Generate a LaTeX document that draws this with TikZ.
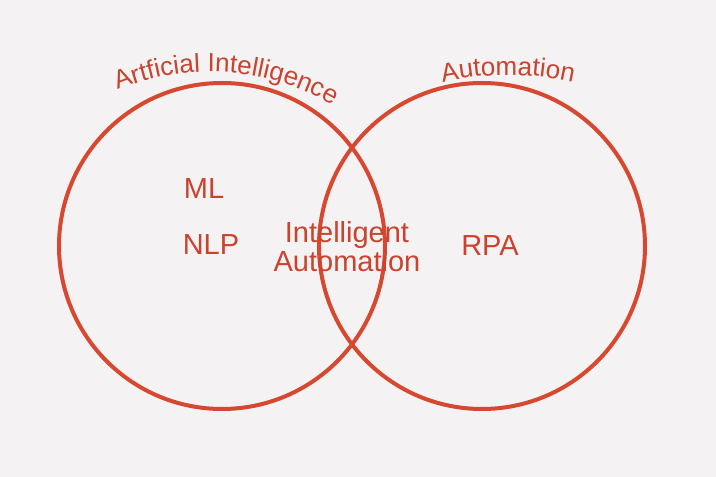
\documentclass[tikz,border=0pt]{standalone}
\usepackage{fontspec}
\setmainfont{Liberation Sans}
\usetikzlibrary{decorations.text}
\definecolor{vennred}{HTML}{D6482F}
\definecolor{labelred}{HTML}{C9432F}
\definecolor{paper}{HTML}{F4F2F3}
\begin{document}
\begin{tikzpicture}[x=1pt,y=1pt,
    setcircle/.style={draw=vennred,line width=4pt},
    setlabel/.style={text=labelred,font=\fontsize{29}{32}\selectfont,align=center}]
    			\fill[paper] (0,0) rectangle (716,477);
    			\useasboundingbox (0,0) rectangle (716,477);
    			\draw[setcircle] (222,231) circle[radius=163];
    			\draw[setcircle] (482,231) circle[radius=163];
    			\path[decorate,decoration={text along path,text align=center,text color=labelred,
    			    text={|\fontsize{26}{30}\selectfont|Artficial Intelligence}}]
    			    (210,160) ++(118:245) arc[start angle=118,end angle=54,radius=245];
    			\path[decorate,decoration={text along path,text align=center,text color=labelred,
    			    text={|\fontsize{26}{30}\selectfont|Automation}}]
    			    (508,102) ++(106:300) arc[start angle=106,end angle=74,radius=300];
    			\node[setlabel] (ml) at (204,288) {ML};
    			\node[setlabel] (nlp) at (211,232) {NLP};
    			\node[setlabel] (ia) at (347,230) {Intelligent\\[-3pt]Automation};
    			\node[setlabel] (rpa) at (490,231) {RPA};
    		\end{tikzpicture}
\end{document}
